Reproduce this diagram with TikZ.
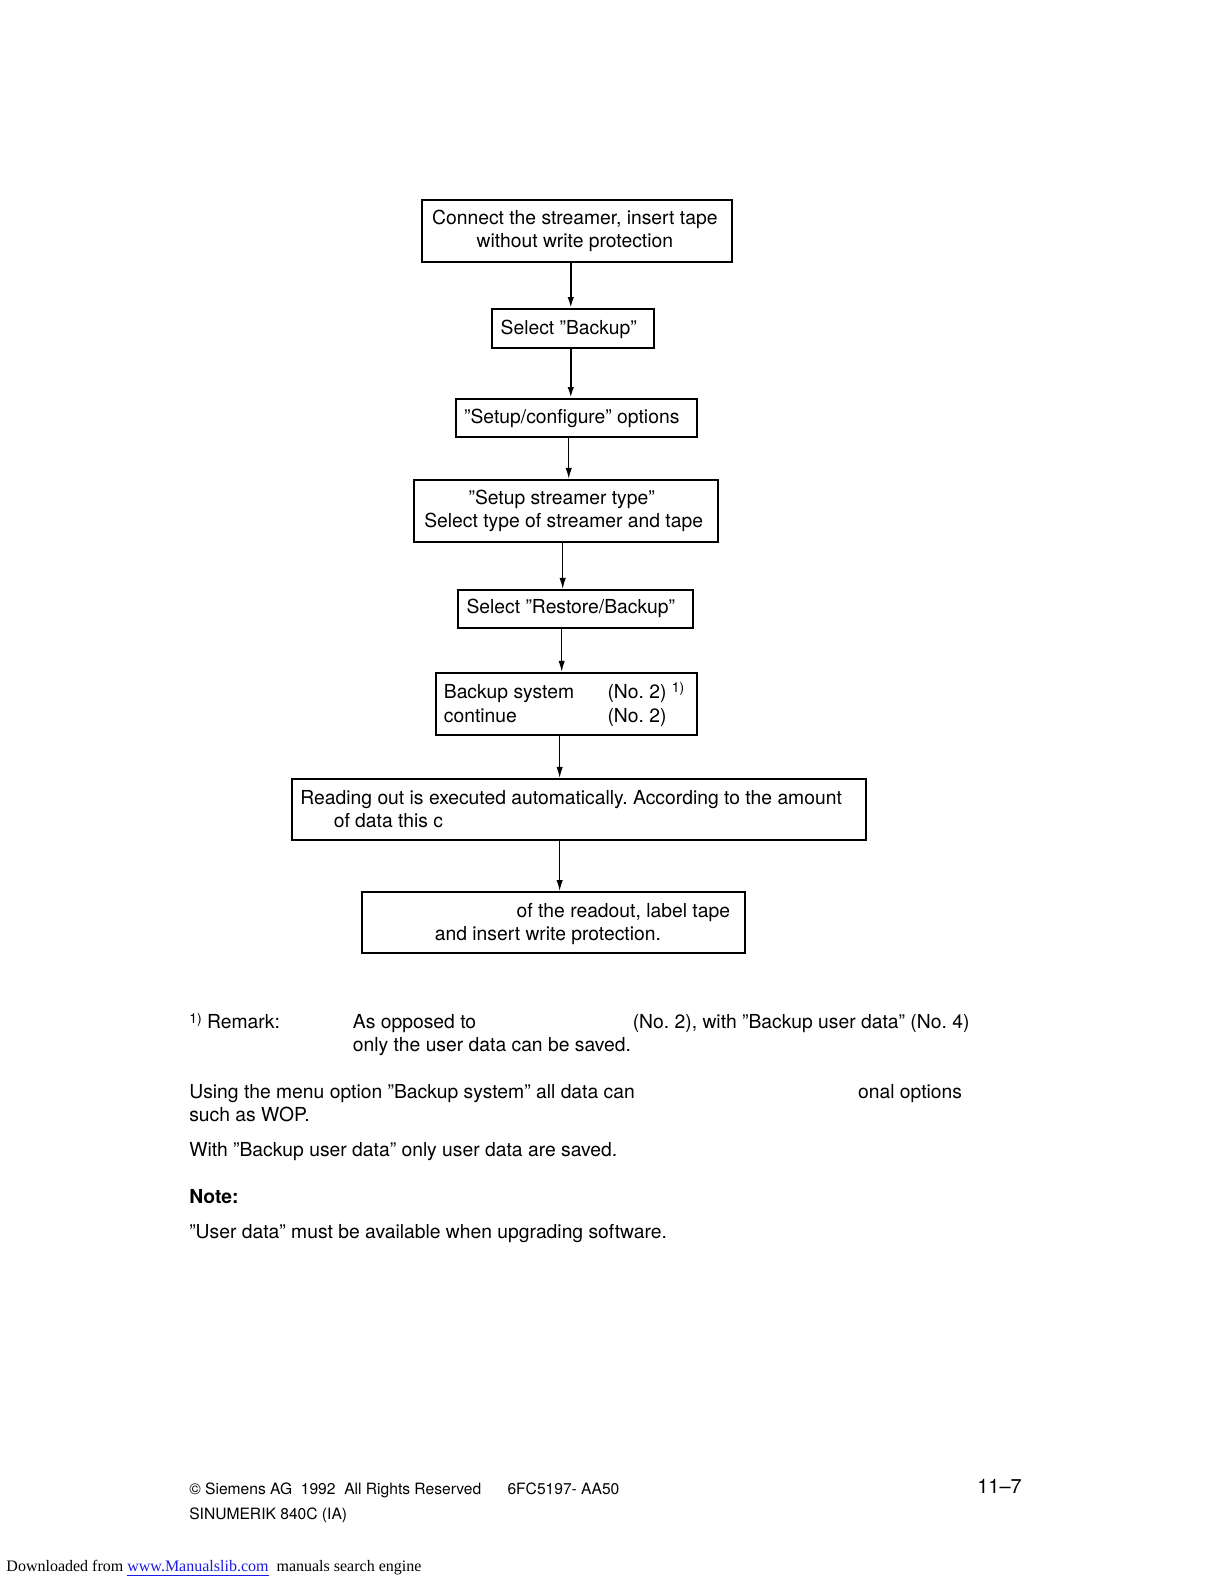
\documentclass[tikz,border=0pt]{standalone}
\usepackage{fontspec}
\setmainfont{TeX Gyre Heros}
\newfontfamily\dlfont{Liberation Serif}
\usetikzlibrary{arrows.meta,positioning}
\definecolor{linkblue}{HTML}{1A1AE6}
\frenchspacing
\newlength\pxu \setlength\pxu{0.50495pt}
\newcommand\txtsize{\fontsize{9.65}{11.6}\selectfont}
\newcommand\fnmark{\raisebox{.5ex}{\fontsize{7}{8}\selectfont 1)}}
\tikzset{>={Latex[length=5.5pt,width=3.2pt]},
  every node/.style={font=\txtsize},
  stepbox/.style={draw,line width=1pt,inner sep=0pt,align=center},
  flow/.style={->,line width=.6pt},
  flowbold/.style={->,line width=1pt},
  txt/.style={inner sep=0pt,anchor=base west},
  foot/.style={inner sep=0pt,anchor=base west,font=\fontsize{7.8}{9}\selectfont}}

\begin{document}
\begin{tikzpicture}[x=0.50495pt,y=-0.50495pt]
\useasboundingbox (0,0) rectangle (1212,1568);
% flow chart: one box per step, arrows straight down
\node[stepbox,minimum width=307\pxu,minimum height=61\pxu] (connect) at (571.5,228.5) {};
\node[txt,anchor=center] (connecta) at (569,217) {Connect the streamer, insert tape};
\node[txt,anchor=center] (connectb) at (569,240) {without write protection};
\node[stepbox,minimum width=160\pxu,minimum height=38\pxu] (backup) at (567,325) {};
\node[txt,anchor=center] (backupt) at (563,326) {Select ”Backup”};
\node[stepbox,minimum width=239\pxu,minimum height=38\pxu] (setup) at (570.5,414) {};
\node[txt,anchor=center] (setupt) at (566,414) {”Setup/configure” options};
\node[stepbox,minimum width=301\pxu,minimum height=62\pxu] (stype) at (560.5,506) {};
\node[txt,anchor=center] (stypea) at (556,494) {”Setup streamer type”};
\node[txt,anchor=center] (stypeb) at (558,517) {Select type of streamer and tape};
\node[stepbox,minimum width=233\pxu,minimum height=38\pxu] (restore) at (569.5,603) {};
\node[txt,anchor=center] (restoret) at (565,602) {Select ”Restore/Backup”};
\node[stepbox,minimum width=258\pxu,minimum height=62\pxu] (bsys) at (561,697) {};
\node[stepbox,minimum width=568\pxu,minimum height=61\pxu] (readout) at (573,801.5) {};
\node[stepbox,minimum width=379\pxu,minimum height=60\pxu] (label) at (547.5,913) {};
% texts set inside the lower boxes
\node[txt] (bsysa) at (439,691) {Backup system};
\node[txt] (bsysb) at (601,691) {(No. 2) \fnmark};
\node[txt] (conta) at (439,715) {continue};
\node[txt] (contb) at (601,715) {(No. 2)};
\node[txt] (reada) at (297,796) {Reading out is executed automatically. According to the amount};
\node[txt] (readb) at (330,819) {of data this c};
\node[txt,anchor=base east] (labela) at (723,908) {of the readout, label tape};
\node[txt] (labelb) at (430,931) {and insert write protection.};
% connectors
\draw[flowbold] (connect.south -| 565,0) -- (backup.north -| 565,0);
\draw[flowbold] (backup.south -| 565,0) -- (setup.north -| 565,0);
\draw[flow] (setup.south -| 563,0) -- (stype.north -| 563,0);
\draw[flow] (stype.south -| 557,0) -- (restore.north -| 557,0);
\draw[flow] (restore.south -| 556,0) -- (bsys.north -| 556,0);
\draw[flow] (bsys.south -| 554,0) -- (readout.north -| 554,0);
\draw[flow] (readout.south -| 554,0) -- (label.north -| 554,0);
% remark and notes below the chart
\node[txt] (fn) at (187,1018) {\fnmark\ Remark:};
\node[txt] (fna) at (349,1018) {As opposed to};
\node[txt] (fnb) at (626,1018) {(No. 2), with ”Backup user data” (No. 4)};
\node[txt] (fnc) at (349,1041) {only the user data can be saved.};
\node[txt] (usea) at (187,1087) {Using the menu option ”Backup system” all data can};
\node[txt] (useb) at (849,1087) {onal options};
\node[txt] (usec) at (187,1110) {such as WOP.};
\node[txt] (with) at (187,1145) {With ”Backup user data” only user data are saved.};
\node[txt,font=\txtsize\bfseries] (note) at (187,1191) {Note:};
\node[txt] (udata) at (187,1226) {”User data” must be available when upgrading software.};
% page footer
\node[foot] (copy) at (187,1479) {© Siemens AG\ \ 1992\ \ All Rights Reserved};
\node[foot] (order) at (502,1479) {6FC5197- AA50};
\node[txt,font=\fontsize{10}{12}\selectfont] (page) at (967,1478) {11–7};
\node[foot] (sinu) at (187,1504) {SINUMERIK 840C (IA)};
\node[txt,font=\dlfont\fontsize{8}{10}\selectfont] (dl) at (6,1556) {Downloaded from \textcolor{linkblue}{\underline{www.Manualslib.com}}\ \ manuals search engine};
\end{tikzpicture}
\end{document}
